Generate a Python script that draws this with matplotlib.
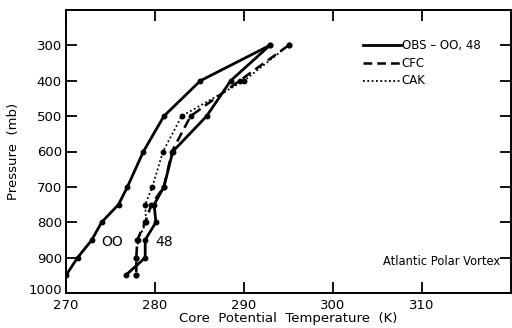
import matplotlib.pyplot as plt
from matplotlib.transforms import ScaledTranslation

# Data
pressure = [300, 400, 500, 600, 700, 750, 800, 850, 900, 950]
obs_00 = [292.9, 285.1, 281.0, 278.7, 276.9, 275.9, 274.0, 272.9, 271.3, 270.0]
obs_48 = [292.9, 288.5, 285.8, 282.0, 281.0, 279.9, 280.1, 278.9, 278.9, 276.7]
cfc = [295.0, 289.5, 284.0, 281.9, 281.0, 279.6, 278.9, 278.0, 277.9, 277.9]
cak = [295.0, 290.0, 283.0, 280.9, 279.7, 278.9, 279.0, 278.1, 277.9, 277.9]

x_ticks = [270, 280, 290, 300, 310]
y_ticks = [300, 400, 500, 600, 700, 800, 900, 1000]

plt.rcParams['font.family'] = ['DejaVu Sans']

fig = plt.figure(figsize=(5.12, 3.28), dpi=100)
ax = fig.add_axes([66 / 512, 1 - 293 / 328, 445 / 512, 283 / 328])

ax.plot(obs_00, pressure, color="black", lw=2.0, marker="o", ms=3.2)
ax.plot(obs_48, pressure, color="black", lw=2.0, marker="o", ms=3.2)
ax.plot(cfc, pressure, color="black", lw=1.8, ls=(0, (4, 2.2)), marker="o", ms=3.2)
ax.plot(cak, pressure, color="black", lw=1.3, ls=(0, (1, 1.4)), marker="o", ms=3.2)

ax.set_xlim(270, 320)
ax.set_ylim(1000, 200)
ax.set_xticks(x_ticks)
ax.set_yticks(y_ticks)
ax.tick_params(direction="in", length=8, width=1.3, top=True, right=True,
               labelsize=9.5, pad=3)
ax.tick_params(axis="x", pad=4)
for s in ax.spines.values():
    s.set_linewidth(1.4)

# the 1000 label sits a touch higher so it clears 270
lab = ax.get_yticklabels()[-1]
lab.set_transform(lab.get_transform() + ScaledTranslation(0, 3 / 72, fig.dpi_scale_trans))

ax.set_xlabel("Core  Potential  Temperature  (K)", fontsize=9.5, labelpad=0)
ax.set_ylabel("Pressure  (mb)", fontsize=9.5, labelpad=6)

# legend drawn by hand like the original
leg_x0, leg_x1 = 303.4, 307.6
for yv, style, lw, txt in [(300, "-", 2.0, "OBS \u2013 OO, 48"),
                           (350, (0, (3.5, 2)), 1.8, "CFC"),
                           (400, (0, (1, 1.4)), 1.3, "CAK")]:
    ax.plot([leg_x0, leg_x1], [yv, yv], color="black", lw=lw, ls=style)
    ax.text(leg_x1 + 0.1, yv, txt, fontsize=8.5, va="center", ha="left")

ax.text(274.0, 855, "OO", fontsize=10, va="center", ha="left")
ax.text(280.0, 855, "48", fontsize=10, va="center", ha="left")
ax.text(305.6, 910, "Atlantic Polar Vortex", fontsize=8.3, va="center", ha="left")

fig.savefig("out.png", dpi=100)
